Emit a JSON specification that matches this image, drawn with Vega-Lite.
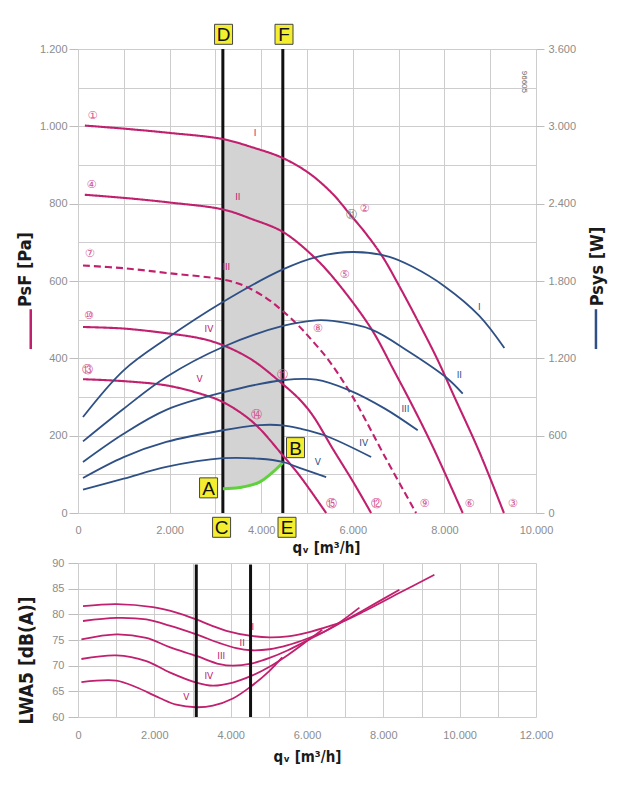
{
  "$schema": "https://vega.github.io/schema/vega-lite/v6.json",
  "padding": {"left": 16, "top": 22, "right": 5, "bottom": 5},
  "background": "white",
  "spacing": 2,
  "config": {
    "view": {"stroke": null},
    "axis": {
      "labelFont": "Liberation Sans",
      "labelFontSize": 11,
      "labelColor": "#8c8c8c",
      "gridColor": "#cdcdcd",
      "gridWidth": 1,
      "tickColor": "#bdbdbd",
      "domain": false,
      "labelFlush": false,
      "labelOverlap": false,
      "titleFont": "Liberation Sans Narrow, DejaVu Sans Condensed, sans-serif",
      "titleFontWeight": "bold",
      "titleColor": "#1a1a1a"
    }
  },
  "datasets": {
    "press": [
      {"series": "I", "q": 150, "p": 1002}, {"series": "I", "q": 1000, "p": 994}, {"series": "I", "q": 2000, "p": 983},
      {"series": "I", "q": 3163, "p": 967}, {"series": "I", "q": 3800, "p": 946}, {"series": "I", "q": 4472, "p": 918},
      {"series": "I", "q": 5054, "p": 878}, {"series": "I", "q": 5563, "p": 825}, {"series": "I", "q": 5927, "p": 774},
      {"series": "I", "q": 6291, "p": 722}, {"series": "I", "q": 6654, "p": 662}, {"series": "I", "q": 7000, "p": 590},
      {"series": "I", "q": 7432, "p": 494}, {"series": "I", "q": 7840, "p": 399}, {"series": "I", "q": 8200, "p": 305},
      {"series": "I", "q": 8763, "p": 158}, {"series": "I", "q": 9300, "p": 0},
      {"series": "II", "q": 148, "p": 823}, {"series": "II", "q": 1000, "p": 815}, {"series": "II", "q": 2000, "p": 803},
      {"series": "II", "q": 3163, "p": 785}, {"series": "II", "q": 3800, "p": 760}, {"series": "II", "q": 4472, "p": 727},
      {"series": "II", "q": 5127, "p": 665}, {"series": "II", "q": 5600, "p": 605}, {"series": "II", "q": 6400, "p": 477},
      {"series": "II", "q": 6900, "p": 368}, {"series": "II", "q": 7300, "p": 278}, {"series": "II", "q": 7744, "p": 172},
      {"series": "II", "q": 8400, "p": 0},
      {"series": "III", "q": 109, "p": 640}, {"series": "III", "q": 1000, "p": 633}, {"series": "III", "q": 2000, "p": 620},
      {"series": "III", "q": 3163, "p": 604}, {"series": "III", "q": 3599, "p": 589}, {"series": "III", "q": 4110, "p": 556},
      {"series": "III", "q": 4472, "p": 522}, {"series": "III", "q": 4836, "p": 482}, {"series": "III", "q": 5127, "p": 444},
      {"series": "III", "q": 5454, "p": 398}, {"series": "III", "q": 5980, "p": 304}, {"series": "III", "q": 6727, "p": 140},
      {"series": "III", "q": 7382, "p": 0},
      {"series": "IV", "q": 109, "p": 481}, {"series": "IV", "q": 997, "p": 477}, {"series": "IV", "q": 1928, "p": 465},
      {"series": "IV", "q": 2655, "p": 452}, {"series": "IV", "q": 3163, "p": 434}, {"series": "IV", "q": 3800, "p": 396},
      {"series": "IV", "q": 4472, "p": 333}, {"series": "IV", "q": 4836, "p": 294}, {"series": "IV", "q": 5127, "p": 252},
      {"series": "IV", "q": 5563, "p": 166}, {"series": "IV", "q": 6000, "p": 82}, {"series": "IV", "q": 6400, "p": 0},
      {"series": "V", "q": 109, "p": 346}, {"series": "V", "q": 997, "p": 341}, {"series": "V", "q": 1928, "p": 330},
      {"series": "V", "q": 2655, "p": 309}, {"series": "V", "q": 3163, "p": 287}, {"series": "V", "q": 3818, "p": 235},
      {"series": "V", "q": 4472, "p": 149}, {"series": "V", "q": 4836, "p": 97}, {"series": "V", "q": 5418, "p": 0}
    ],
    "power": [
      {"series": "I", "q": 109, "w": 745}, {"series": "I", "q": 997, "w": 1107}, {"series": "I", "q": 1928, "w": 1352},
      {"series": "I", "q": 3163, "w": 1637}, {"series": "I", "q": 4472, "w": 1890}, {"series": "I", "q": 5200, "w": 1986},
      {"series": "I", "q": 5999, "w": 2025}, {"series": "I", "q": 6800, "w": 1988}, {"series": "I", "q": 7308, "w": 1910},
      {"series": "I", "q": 8000, "w": 1760}, {"series": "I", "q": 8763, "w": 1530}, {"series": "I", "q": 9309, "w": 1280},
      {"series": "II", "q": 109, "w": 556}, {"series": "II", "q": 997, "w": 809}, {"series": "II", "q": 1928, "w": 1055},
      {"series": "II", "q": 3163, "w": 1288}, {"series": "II", "q": 4472, "w": 1451}, {"series": "II", "q": 5200, "w": 1495},
      {"series": "II", "q": 5563, "w": 1490}, {"series": "II", "q": 6400, "w": 1425}, {"series": "II", "q": 7236, "w": 1249},
      {"series": "II", "q": 8072, "w": 1042}, {"series": "II", "q": 8400, "w": 926},
      {"series": "III", "q": 109, "w": 396}, {"series": "III", "q": 997, "w": 615}, {"series": "III", "q": 1928, "w": 800},
      {"series": "III", "q": 3163, "w": 935}, {"series": "III", "q": 4472, "w": 1030}, {"series": "III", "q": 5200, "w": 1035},
      {"series": "III", "q": 5927, "w": 952}, {"series": "III", "q": 6700, "w": 810}, {"series": "III", "q": 7417, "w": 642},
      {"series": "IV", "q": 109, "w": 272}, {"series": "IV", "q": 997, "w": 434}, {"series": "IV", "q": 1928, "w": 551},
      {"series": "IV", "q": 3163, "w": 642}, {"series": "IV", "q": 3964, "w": 682}, {"series": "IV", "q": 4472, "w": 680},
      {"series": "IV", "q": 4836, "w": 656}, {"series": "IV", "q": 5381, "w": 603}, {"series": "IV", "q": 6400, "w": 434},
      {"series": "V", "q": 109, "w": 181}, {"series": "V", "q": 997, "w": 266}, {"series": "V", "q": 1928, "w": 357},
      {"series": "V", "q": 3163, "w": 425}, {"series": "V", "q": 3964, "w": 421}, {"series": "V", "q": 4472, "w": 396},
      {"series": "V", "q": 4836, "w": 350}, {"series": "V", "q": 5418, "w": 279}
    ],
    "shade": [
      {"q": 3163, "p": 967, "p2": 63}, {"q": 3527, "p": 957, "p2": 66}, {"q": 3800, "p": 946, "p2": 74},
      {"q": 3964, "p": 940, "p2": 80}, {"q": 4200, "p": 931, "p2": 102}, {"q": 4472, "p": 918, "p2": 130}
    ],
    "green": [
      {"q": 3163, "p": 63}, {"q": 3527, "p": 66}, {"q": 3964, "p": 80}, {"q": 4472, "p": 130}
    ],
    "vlines": [
      {"q": 3163, "p": 0, "p2": 1200}, {"q": 4472, "p": 0, "p2": 1200}
    ],
    "romansTop": [
      {"t": "I", "q": 3866, "p": 983, "k": "m"}, {"t": "II", "q": 3490, "p": 817, "k": "m"},
      {"t": "III", "q": 3237, "p": 636, "k": "m"}, {"t": "IV", "q": 2858, "p": 477, "k": "m"},
      {"t": "V", "q": 2655, "p": 346, "k": "m"},
      {"t": "I", "q": 8763, "p": 533, "k": "b"}, {"t": "II", "q": 8327, "p": 356, "k": "b"},
      {"t": "III", "q": 7149, "p": 268, "k": "b"}, {"t": "IV", "q": 6239, "p": 182, "k": "b"},
      {"t": "V", "q": 5236, "p": 132, "k": "b"}
    ],
    "circles": [
      {"t": "①", "q": 314, "p": 1028, "k": "c"}, {"t": "④", "q": 292, "p": 849, "k": "c"},
      {"t": "⑦", "q": 255, "p": 669, "k": "c"}, {"t": "⑩", "q": 240, "p": 509, "k": "c"},
      {"t": "⑬", "q": 218, "p": 369, "k": "c"}, {"t": "②", "q": 6254, "p": 787, "k": "c"},
      {"t": "⑪", "q": 5964, "p": 770, "k": "g"}, {"t": "⑤", "q": 5818, "p": 615, "k": "c"},
      {"t": "⑧", "q": 5236, "p": 475, "k": "c"}, {"t": "⑪", "q": 4472, "p": 356, "k": "c"},
      {"t": "⑭", "q": 3892, "p": 254, "k": "c"}, {"t": "⑮", "q": 5528, "p": 22, "k": "c"},
      {"t": "⑫", "q": 6523, "p": 22, "k": "c"}, {"t": "⑨", "q": 7563, "p": 22, "k": "c"},
      {"t": "⑥", "q": 8544, "p": 22, "k": "c"}, {"t": "③", "q": 9490, "p": 22, "k": "c"}
    ],
    "boxes": [
      {"t": "D", "q": 3178, "p": 1238}, {"t": "F", "q": 4498, "p": 1238},
      {"t": "A", "q": 2851, "p": 65}, {"t": "B", "q": 4749, "p": 169},
      {"t": "C", "q": 3135, "p": -37}, {"t": "E", "q": 4564, "p": -37}
    ],
    "note": [{"t": "96605", "q": 9745, "p": 1115}],
    "dashL": [{"q": -1032, "p": 424, "p2": 527}],
    "dashR": [{"q": 11309, "w": 1272, "w2": 1581}],
    "noise": [
      {"series": "I", "q": 131, "L": 81.6}, {"series": "I", "q": 1005, "L": 82.0}, {"series": "I", "q": 1963, "L": 81.4},
      {"series": "I", "q": 2600, "L": 80.3}, {"series": "I", "q": 3099, "L": 79.0}, {"series": "I", "q": 3500, "L": 77.8},
      {"series": "I", "q": 3885, "L": 76.8}, {"series": "I", "q": 4539, "L": 75.8}, {"series": "I", "q": 5018, "L": 75.5},
      {"series": "I", "q": 5500, "L": 75.7}, {"series": "I", "q": 5979, "L": 76.4}, {"series": "I", "q": 6589, "L": 77.7},
      {"series": "I", "q": 6937, "L": 78.6}, {"series": "I", "q": 7500, "L": 80.6}, {"series": "I", "q": 8400, "L": 84.1},
      {"series": "I", "q": 9338, "L": 87.7},
      {"series": "II", "q": 131, "L": 78.7}, {"series": "II", "q": 1005, "L": 79.3}, {"series": "II", "q": 1790, "L": 79.0},
      {"series": "II", "q": 2400, "L": 77.8}, {"series": "II", "q": 3099, "L": 76.1}, {"series": "II", "q": 3709, "L": 74.4},
      {"series": "II", "q": 4147, "L": 73.4}, {"series": "II", "q": 4539, "L": 73.0}, {"series": "II", "q": 5018, "L": 73.2},
      {"series": "II", "q": 5500, "L": 74.0}, {"series": "II", "q": 5979, "L": 75.2}, {"series": "II", "q": 6500, "L": 76.8},
      {"series": "II", "q": 6851, "L": 78.2}, {"series": "II", "q": 7500, "L": 80.9}, {"series": "II", "q": 8421, "L": 84.8},
      {"series": "III", "q": 89, "L": 75.1}, {"series": "III", "q": 1005, "L": 76.1}, {"series": "III", "q": 1790, "L": 75.4},
      {"series": "III", "q": 2400, "L": 73.6}, {"series": "III", "q": 3099, "L": 71.9}, {"series": "III", "q": 3709, "L": 70.3},
      {"series": "III", "q": 4058, "L": 70.0}, {"series": "III", "q": 4539, "L": 70.4}, {"series": "III", "q": 5018, "L": 71.5},
      {"series": "III", "q": 5500, "L": 73.0}, {"series": "III", "q": 6000, "L": 74.9}, {"series": "III", "q": 6500, "L": 76.8},
      {"series": "III", "q": 6851, "L": 78.4}, {"series": "III", "q": 7374, "L": 81.3},
      {"series": "IV", "q": 89, "L": 71.3}, {"series": "IV", "q": 1005, "L": 72.0}, {"series": "IV", "q": 1790, "L": 70.9},
      {"series": "IV", "q": 2400, "L": 68.7}, {"series": "IV", "q": 3099, "L": 66.7}, {"series": "IV", "q": 3534, "L": 66.1},
      {"series": "IV", "q": 4058, "L": 66.7}, {"series": "IV", "q": 4539, "L": 68.0}, {"series": "IV", "q": 5018, "L": 69.8},
      {"series": "IV", "q": 5500, "L": 72.1}, {"series": "IV", "q": 6000, "L": 74.8}, {"series": "IV", "q": 6400, "L": 77.0},
      {"series": "V", "q": 89, "L": 66.8}, {"series": "V", "q": 1005, "L": 67.1}, {"series": "V", "q": 1529, "L": 65.8},
      {"series": "V", "q": 2139, "L": 63.7}, {"series": "V", "q": 2576, "L": 62.4}, {"series": "V", "q": 3099, "L": 61.9},
      {"series": "V", "q": 3534, "L": 62.2}, {"series": "V", "q": 4058, "L": 63.6}, {"series": "V", "q": 4539, "L": 66.0},
      {"series": "V", "q": 5018, "L": 69.0}, {"series": "V", "q": 5350, "L": 71.6}
    ],
    "nlines": [
      {"q": 3099, "L": 60, "L2": 89.7}, {"q": 4521, "L": 60, "L2": 89.7}
    ],
    "romansBottom": [
      {"t": "I", "q": 4581, "L": 77.6}, {"t": "II", "q": 4304, "L": 74.5}, {"t": "III", "q": 3754, "L": 71.9},
      {"t": "IV", "q": 3429, "L": 68.0}, {"t": "V", "q": 2838, "L": 63.8}
    ]
  },
  "vconcat": [
    {
      "width": 458,
      "height": 464,
      "encoding": {
        "x": {
          "field": "q", "type": "quantitative",
          "scale": {"domain": [0, 10000], "nice": false, "zero": false},
          "axis": {
            "values": [0, 1000, 2000, 3000, 4000, 5000, 6000, 7000, 8000, 9000, 10000],
            "labelExpr": "datum.value % 2000 === 0 ? replace(format(datum.value, ','), ',', '.') : ''",
            "ticks": false, "tickSize": 0, "labelPadding": 11,
            "title": "qᵥ [m³/h]", "titleFontSize": 15, "titlePadding": 5, "titleX": 248, "grid": true
          }
        }
      },
      "layer": [
        {
          "encoding": {
            "y": {
              "field": "p", "type": "quantitative",
              "scale": {"domain": [0, 1200], "nice": false, "zero": false},
              "axis": {
                "values": [0, 100, 200, 300, 400, 500, 600, 700, 800, 900, 1000, 1100, 1200],
                "labelExpr": "datum.value % 200 === 0 ? replace(format(datum.value, ','), ',', '.') : ''",
                "tickSize": 9,
                "tickColor": {"condition": {"test": "datum.value % 200 === 0", "value": "#bdbdbd"}, "value": "rgba(0,0,0,0)"},
                "labelPadding": 2,
                "title": "PsF [Pa]", "titleFontSize": 18, "titleX": -53, "titleY": 220,
                "titleBaseline": "middle", "titleAngle": -90, "grid": true
              }
            }
          },
          "layer": [
            {"data": {"name": "shade"}, "mark": {"type": "area", "color": "#d3d3d3", "opacity": 1, "interpolate": "catmull-rom"}, "encoding": {"y2": {"field": "p2"}}},
            {"data": {"name": "vlines"}, "mark": {"type": "rule", "color": "#111111", "strokeWidth": 3}, "encoding": {"y2": {"field": "p2"}}},
            {
              "data": {"name": "press"},
              "mark": {"type": "line", "color": "#c0206e", "strokeWidth": 2.1, "interpolate": "catmull-rom"},
              "encoding": {
                "strokeDash": {"field": "series", "type": "nominal", "scale": {"domain": ["I", "II", "III", "IV", "V"], "range": [[1, 0], [1, 0], [7, 4], [1, 0], [1, 0]]}, "legend": null}
              }
            },
            {"data": {"name": "green"}, "mark": {"type": "line", "color": "#5fd13b", "strokeWidth": 3, "interpolate": "catmull-rom"}, "encoding": {}},
            {
              "data": {"name": "romansTop"},
              "mark": {"type": "text", "font": "DejaVu Sans", "fontSize": 9},
              "encoding": {
                "text": {"field": "t"},
                "color": {"field": "k", "type": "nominal", "scale": {"domain": ["m", "b", "c", "g"], "range": ["#c0206e", "#2e5085", "#d2508c", "#7a7a7a"]}, "legend": null}
              }
            },
            {
              "data": {"name": "circles"},
              "mark": {"type": "text", "font": "DejaVu Sans", "fontSize": 11},
              "encoding": {
                "text": {"field": "t"},
                "color": {"field": "k", "type": "nominal", "scale": {"domain": ["m", "b", "c", "g"], "range": ["#c0206e", "#2e5085", "#d2508c", "#7a7a7a"]}, "legend": null}
              }
            },
            {"data": {"name": "note"}, "mark": {"type": "text", "font": "Liberation Sans", "fontSize": 8, "angle": 90, "color": "#666666"}, "encoding": {"text": {"field": "t"}}},
            {"data": {"name": "dashL"}, "mark": {"type": "rule", "color": "#c0206e", "strokeWidth": 2.5}, "encoding": {"y2": {"field": "p2"}}},
            {"data": {"name": "boxes"}, "mark": {"type": "point", "shape": "M-0.9,-1H0.9V1H-0.9Z", "size": 400, "filled": true, "fill": "#f4ee2e", "stroke": "#444444", "strokeWidth": 1, "opacity": 1}, "encoding": {}},
            {"data": {"name": "boxes"}, "mark": {"type": "text", "font": "Liberation Sans", "fontSize": 19, "color": "#111111", "baseline": "middle", "dy": 1}, "encoding": {"text": {"field": "t"}}}
          ]
        },
        {
          "encoding": {
            "y": {
              "field": "w", "type": "quantitative",
              "scale": {"domain": [0, 3600], "nice": false, "zero": false},
              "axis": {
                "orient": "right",
                "values": [0, 600, 1200, 1800, 2400, 3000, 3600],
                "labelExpr": "replace(format(datum.value, ','), ',', '.')",
                "grid": false, "tickSize": 8, "labelPadding": 4,
                "title": "Psys [W]", "titleFontSize": 18, "titleAngle": -90, "titleX": 61, "titleY": 217,
                "titleBaseline": "middle"
              }
            }
          },
          "layer": [
            {"data": {"name": "power"}, "mark": {"type": "line", "color": "#2e5085", "strokeWidth": 1.8, "interpolate": "catmull-rom"}, "encoding": {"detail": {"field": "series"}}},
            {"data": {"name": "dashR"}, "mark": {"type": "rule", "color": "#2e5085", "strokeWidth": 2.5}, "encoding": {"y2": {"field": "w2"}}}
          ]
        }
      ],
      "resolve": {"scale": {"y": "independent"}}
    },
    {
      "width": 458,
      "height": 154,
      "encoding": {
        "x": {
          "field": "q", "type": "quantitative",
          "scale": {"domain": [0, 12000], "nice": false, "zero": false},
          "axis": {
            "values": [0, 1000, 2000, 3000, 4000, 5000, 6000, 7000, 8000, 9000, 10000, 11000, 12000],
            "labelExpr": "datum.value % 2000 === 0 ? replace(format(datum.value, ','), ',', '.') : ''",
            "ticks": false, "tickSize": 0, "labelPadding": 12,
            "title": "qᵥ [m³/h]", "titleFontSize": 15, "titlePadding": 9, "grid": true
          }
        },
        "y": {
          "field": "L", "type": "quantitative",
          "scale": {"domain": [60, 90], "nice": false, "zero": false},
          "axis": {
            "values": [60, 65, 70, 75, 80, 85, 90],
            "tickSize": 10, "labelPadding": 4,
            "title": "LWA5 [dB(A)]", "titleFontSize": 19, "titleX": -52, "titleY": 97,
            "titleBaseline": "middle", "titleAngle": -90, "grid": true
          }
        }
      },
      "layer": [
        {"data": {"name": "noise"}, "mark": {"type": "line", "color": "#c0206e", "strokeWidth": 1.8, "interpolate": "catmull-rom"}, "encoding": {"detail": {"field": "series"}}},
        {"data": {"name": "nlines"}, "mark": {"type": "rule", "color": "#111111", "strokeWidth": 3}, "encoding": {"y2": {"field": "L2"}}},
        {"data": {"name": "romansBottom"}, "mark": {"type": "text", "font": "DejaVu Sans", "fontSize": 9, "color": "#c0206e"}, "encoding": {"text": {"field": "t"}}}
      ]
    }
  ]
}
